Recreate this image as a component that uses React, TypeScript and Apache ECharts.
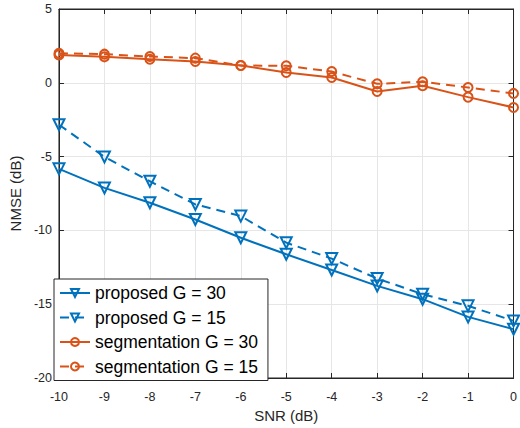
import React, { useEffect, useRef } from "react";
import * as echarts from "echarts";

const snr = [-10, -9, -8, -7, -6, -5, -4, -3, -2, -1, 0];
const proposedG30 = [-5.83, -7.12, -8.13, -9.26, -10.5, -11.62, -12.68, -13.76, -14.66, -15.86, -16.69];
const proposedG15 = [-2.84, -5.02, -6.67, -8.24, -9.03, -10.83, -11.91, -13.26, -14.32, -15.11, -16.13];
const segmentationG30 = [1.89, 1.76, 1.6, 1.44, 1.17, 0.7, 0.36, -0.59, -0.2, -0.97, -1.67];
const segmentationG15 = [2.0, 1.94, 1.78, 1.67, 1.17, 1.15, 0.76, -0.07, 0.07, -0.32, -0.72];
const seriesNames = ["proposed G = 30", "proposed G = 15", "segmentation G = 30", "segmentation G = 15"];

const BLUE = "#0072BD";
const ORANGE = "#D95319";
const FONT = "'Liberation Sans', Arial, sans-serif";
const AX = "#262626";

function makeSeries(name: string, values: number[], color: string, dashed: boolean, tri: boolean) {
  return {
    name,
    type: "line",
    data: snr.map((x, i) => [x, values[i]]),
    symbol: tri ? "triangle" : "circle",
    symbolRotate: tri ? 180 : 0,
    symbolSize: tri ? 11 : 9,
    lineStyle: { color, width: 2, type: dashed ? [9, 6] : "solid" },
    itemStyle: { color: "rgba(255,255,255,0)", borderColor: color, borderWidth: 2 },
    emphasis: { disabled: true },
  };
}

export default function App() {
  const ref = useRef<HTMLDivElement>(null);
  useEffect(() => {
    if (!ref.current) return;
    const chart = echarts.init(ref.current, undefined, { renderer: "svg" });
    const splitLine = { show: true, lineStyle: { color: "#e6e6e6", width: 1 } };
    chart.setOption({
      animation: false,
      backgroundColor: "#fff",
      grid: { left: 54, right: 2, top: 9, bottom: 50, show: true, borderColor: AX, borderWidth: 1, backgroundColor: "rgba(0,0,0,0)" },
      xAxis: [
        {
          type: "value",
          min: -10,
          max: 0,
          interval: 1,
          name: "SNR (dB)",
          nameLocation: "middle",
          nameGap: 29.5,
          nameTextStyle: { color: AX, fontSize: 15, fontFamily: FONT },
          axisLine: { show: true, onZero: false, lineStyle: { color: AX } },
          axisTick: { show: true, inside: true, length: 5, lineStyle: { color: AX } },
          axisLabel: { color: AX, fontSize: 12.5, fontFamily: FONT, margin: 12 },
          splitLine,
        },
        {
          type: "value",
          position: "top",
          min: -10,
          max: 0,
          interval: 1,
          axisLine: { show: true, onZero: false, lineStyle: { color: AX } },
          axisTick: { show: true, inside: true, length: 5, lineStyle: { color: AX } },
          axisLabel: { show: false },
          splitLine: { show: false },
        },
      ],
      yAxis: [
        {
          type: "value",
          min: -20,
          max: 5,
          interval: 5,
          name: "NMSE (dB)",
          nameLocation: "middle",
          nameGap: 28.5,
          nameTextStyle: { color: AX, fontSize: 15, fontFamily: FONT },
          axisLine: { show: true, onZero: false, lineStyle: { color: AX } },
          axisTick: { show: true, inside: true, length: 5, lineStyle: { color: AX } },
          axisLabel: { color: AX, fontSize: 12.5, fontFamily: FONT, margin: 7 },
          splitLine,
        },
        {
          type: "value",
          position: "right",
          min: -20,
          max: 5,
          interval: 5,
          axisLine: { show: true, onZero: false, lineStyle: { color: AX } },
          axisTick: { show: true, inside: true, length: 5, lineStyle: { color: AX } },
          axisLabel: { show: false },
          splitLine: { show: false },
        },
      ],
      legend: {
        data: seriesNames,
        orient: "vertical",
        left: 54,
        top: 279,
        padding: [5, 10, 5, 5],
        itemGap: 6.5,
        itemWidth: 30,
        itemHeight: 10,
        backgroundColor: "#fff",
        borderColor: AX,
        borderWidth: 1,
        borderRadius: 0,
        textStyle: { color: "#000", fontSize: 17.5, fontFamily: FONT },
        selectedMode: false,
      },
      series: [
        makeSeries(seriesNames[0], proposedG30, BLUE, false, true),
        makeSeries(seriesNames[1], proposedG15, BLUE, true, true),
        makeSeries(seriesNames[2], segmentationG30, ORANGE, false, false),
        makeSeries(seriesNames[3], segmentationG15, ORANGE, true, false),
      ],
    });
    return () => chart.dispose();
  }, []);
  return <div ref={ref} style={{ width: 520, height: 428, position: "absolute", left: 0, top: 0 }} />;
}
